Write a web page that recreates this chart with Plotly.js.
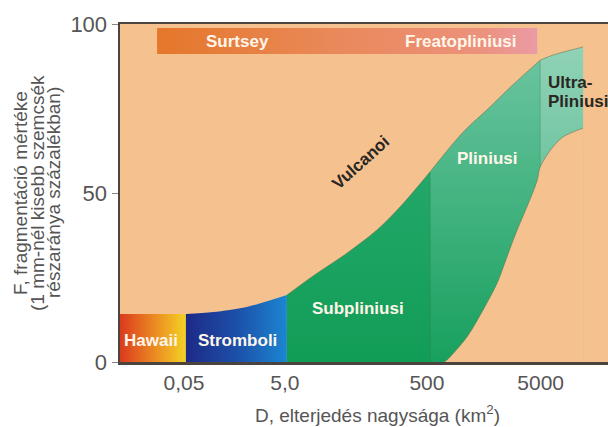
<!DOCTYPE html>
<html>
<head>
<meta charset="utf-8">
<script src="https://cdn.plot.ly/plotly-3.0.1.min.js"></script>
<style>html,body{margin:0;padding:0;background:#fff;}#chart{width:608px;height:427px;}</style>
</head>
<body>
<div id="chart"></div>
<script>
// x is a schematic position scale (0..100) along the dispersal axis
const tickPos = [13.1, 33.8, 62.9, 86.2];
const tickLabels = ['0,05', '5,0', '500', '5000'];
const yTicks = [0, 50, 100];

// upper boundary of the eruption field (fragmentation F, %)
const upperX = [0, 13.5, 19.1, 26.0, 34.2, 39.5, 46.5, 52.7, 57.4, 63.5, 70.3, 75.2, 80.5, 86.1, 88.7, 94.9];
const upperF = [14.2, 14.2, 14.8, 16.3, 19.8, 25.4, 32.2, 39.1, 45.9, 56.2, 68.0, 74.6, 82.0, 89.3, 90.8, 93.2];
// lower boundary of the plinian / ultra-plinian field
const lowerX = [66.4, 67.0, 71.1, 74.4, 77.3, 79.3, 81.4, 83.4, 85.5, 86.1, 88.7, 90.8, 94.9];
const lowerF = [0, 0.6, 7.4, 15.4, 23.4, 31.1, 39.1, 45.9, 53.8, 57.7, 63.6, 66.6, 69.2];

// class boundaries along x
const bHawaii = 13.5, bStromboli = 34.2, bSub = 63.5, bPlin = 86.1, bUltra = 94.9;
// phreatic band (Surtsey - Freatopliniusi)
const bandX = [7.6, 85.5];
const bandF = [91.1, 98.8];

const font = 'Liberation Sans, Arial, sans-serif';
const peach = '#f5c28f';
const edge = 'rgba(95,115,80,0.55)';

function upperBetween(a, b) {
  const xs = [], ys = [];
  upperX.forEach((x, i) => { if (x >= a && x <= b) { xs.push(x); ys.push(upperF[i]); } });
  return [xs, ys];
}
function area(a, b, grad, line) {
  const [xs, ys] = upperBetween(a, b);
  return {type: 'scatter', mode: 'lines', x: xs, y: ys, fill: 'tozeroy', fillgradient: grad,
    line: Object.assign({shape: 'spline', smoothing: 0.9}, line || {width: 0}),
    hoverinfo: 'skip', showlegend: false};
}

const traces = [
  area(0, bHawaii, {type: 'horizontal', colorscale: [[0, '#dc3a1e'], [0.55, '#ec8e22'], [1, '#f4d224']]}),
  area(bHawaii, bStromboli, {type: 'horizontal', colorscale: [[0, '#1d2a86'], [0.5, '#1c4fa8'], [1, '#1b86d2']]}),
  area(bStromboli, bSub, {type: 'vertical', start: 0, stop: 56, colorscale: [[0, '#129d56'], [1, '#22a86a']]},
       {width: 1, color: edge}),
  area(bSub, bPlin, {type: 'vertical', start: 0, stop: 90, colorscale: [[0, '#18a05e'], [1, '#6ac49f']]},
       {width: 1, color: edge}),
  area(bPlin, bUltra, {type: 'vertical', start: 55, stop: 93, colorscale: [[0, '#6ec4a0'], [1, '#90d2b6']]},
       {width: 1, color: edge}),
  // background showing again under the lower boundary
  {type: 'scatter', mode: 'lines', x: lowerX, y: lowerF, fill: 'tozeroy', fillcolor: peach,
   line: {shape: 'spline', smoothing: 0.9, width: 1, color: edge}, hoverinfo: 'skip', showlegend: false},
  {type: 'scatter', mode: 'lines', x: [bSub, bSub], y: [0, upperF[upperX.indexOf(bSub)]],
   line: {color: 'rgba(10,110,60,0.45)', width: 1}, hoverinfo: 'skip', showlegend: false},
  {type: 'scatter', mode: 'lines', x: [bPlin, bPlin],
   y: [lowerF[lowerX.indexOf(bPlin)], upperF[upperX.indexOf(bPlin)]],
   line: {color: 'rgba(40,140,90,0.45)', width: 1}, hoverinfo: 'skip', showlegend: false},
  {type: 'scatter', mode: 'lines', x: [bandX[0], bandX[1], bandX[1], bandX[0]],
   y: [bandF[0], bandF[0], bandF[1], bandF[1]], fill: 'toself',
   fillgradient: {type: 'horizontal', colorscale: [[0, '#e4772a'], [0.45, '#e98858'], [0.85, '#ec917c'], [1, '#eb9ba6']]},
   line: {width: 0}, hoverinfo: 'skip', showlegend: false}
];

const white = '#fff6ea', dark = '#2a2622';
function lab(text, x, y, color, extra) {
  return Object.assign({text: '<b>' + text + '</b>', x: x, y: y, xref: 'x', yref: 'y', showarrow: false,
    font: {family: font, size: 17, color: color}}, extra || {});
}
function ytitle(text, px) {
  return {text: text, xref: 'paper', yref: 'paper', x: (px - 120) / 488, y: 0.5, textangle: -90,
    xanchor: 'center', yanchor: 'middle', showarrow: false, font: {family: font, size: 19, color: '#555'}};
}
const annotations = [
  lab('Surtsey', 24.0, 94.7, white),
  lab('Freatopliniusi', 69.7, 94.7, white),
  lab('Vulcanoi', 49.4, 58.9, dark, {textangle: -42}),
  lab('Pliniusi', 75.2, 60.1, white),
  lab('Ultra-', 87.3, 82.7, dark, {xanchor: 'left'}),
  lab('Pliniusi', 87.3, 77.2, dark, {xanchor: 'left'}),
  lab('Subpliniusi', 48.8, 15.7, white),
  lab('Hawaii', 6.3, 6.5, white),
  lab('Stromboli', 24.0, 6.5, white),
  {text: 'D, elterjedés nagysága (km<sup>2</sup>)', xref: 'paper', yref: 'paper', x: 0.527, y: -0.154,
   xanchor: 'center', yanchor: 'middle', showarrow: false, font: {family: font, size: 19, color: '#555'}},
  ytitle('F, fragmentáció mértéke', 20),
  ytitle('(1 mm-nél kisebb szemcsék', 37),
  ytitle('részaránya százalékban)', 53)
];

const layout = {
  width: 608, height: 427,
  margin: {l: 120, r: 0, t: 24, b: 65},
  paper_bgcolor: '#ffffff', plot_bgcolor: peach,
  showlegend: false,
  font: {family: font, color: '#555'},
  xaxis: {range: [0, 100], tickvals: tickPos, ticktext: tickLabels, ticks: '', showgrid: false,
    zeroline: false, showline: true, mirror: true, linecolor: '#4a433e', linewidth: 2.5,
    tickfont: {family: font, size: 21, color: '#555'}, fixedrange: true},
  yaxis: {range: [0, 100], tickvals: yTicks, ticks: 'outside', ticklen: 6, tickcolor: '#888',
    showgrid: false, zeroline: false, showline: true, linecolor: '#4a433e', linewidth: 2.5,
    tickfont: {family: font, size: 22, color: '#555'}, fixedrange: true},
  annotations: annotations
};
Plotly.newPlot('chart', traces, layout, {displayModeBar: false, staticPlot: true});
</script>
</body>
</html>
